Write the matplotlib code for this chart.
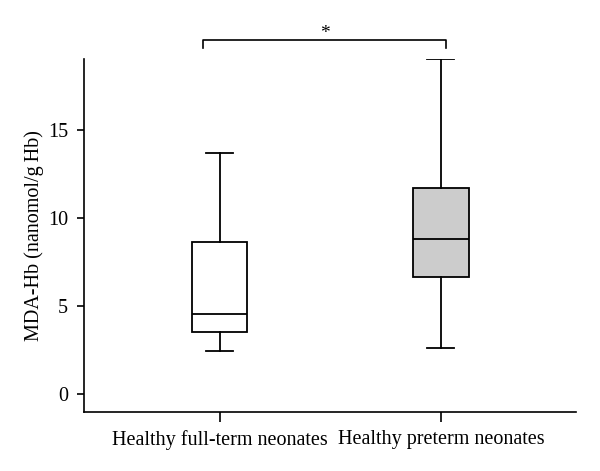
import matplotlib
matplotlib.use('Agg')
import matplotlib.pyplot as plt

groups = ['Healthy full-term neonates', 'Healthy preterm neonates']
whislo = [2.45, 2.6]
q1 = [3.52, 6.67]
med = [4.58, 8.81]
q3 = [8.65, 11.71]
whishi = [13.7, 19.0]
fills = ['white', '#cccccc']

plt.rcParams['font.family'] = ['Liberation Serif', 'DejaVu Serif']

fig = plt.figure(figsize=(6, 4.71), dpi=100)
ax = fig.add_axes([0.14, 0.1253, 0.82, 0.7494])

stats = []
for i in range(len(groups)):
    stats.append({'whislo': whislo[i], 'q1': q1[i], 'med': med[i],
                  'q3': q3[i], 'whishi': whishi[i], 'fliers': []})

bp = ax.bxp(stats, positions=[1, 2], widths=0.25, capwidths=0.122,
            patch_artist=True, showfliers=False,
            boxprops=dict(linewidth=1.3, edgecolor='black'),
            medianprops=dict(color='black', linewidth=1.3),
            whiskerprops=dict(color='black', linewidth=1.3),
            capprops=dict(color='black', linewidth=1.3))
for patch, c in zip(bp['boxes'], fills):
    patch.set_facecolor(c)

ax.set_xlim(0.388, 2.61)
ax.set_ylim(-1, 19)
ax.set_yticks([0, 5, 10, 15])
ax.set_xticks([1, 2])
ax.set_xticklabels(groups)
ax.spines['top'].set_visible(False)
ax.spines['right'].set_visible(False)
ax.spines['left'].set_linewidth(1.2)
ax.spines['bottom'].set_linewidth(1.2)
ax.tick_params(axis='y', length=5, width=1.2, labelsize=14.5, pad=6.5)
ax.tick_params(axis='x', length=7, width=1.2, labelsize=14.5, pad=6)
ax.set_ylabel('MDA-Hb (nanomol/g\u2009Hb)', fontsize=14.5, labelpad=3)

# significance bracket
bx0, bx1, by, bdrop = 0.925, 2.025, 20.08, 0.45
ax.plot([bx0, bx0, bx1, bx1], [by - bdrop, by, by, by - bdrop],
        color='black', linewidth=1.2, clip_on=False)
ax.text((bx0 + bx1) / 2, by - 0.1, '*', ha='center', va='bottom', fontsize=14)

fig.savefig('out.png', dpi=100)
